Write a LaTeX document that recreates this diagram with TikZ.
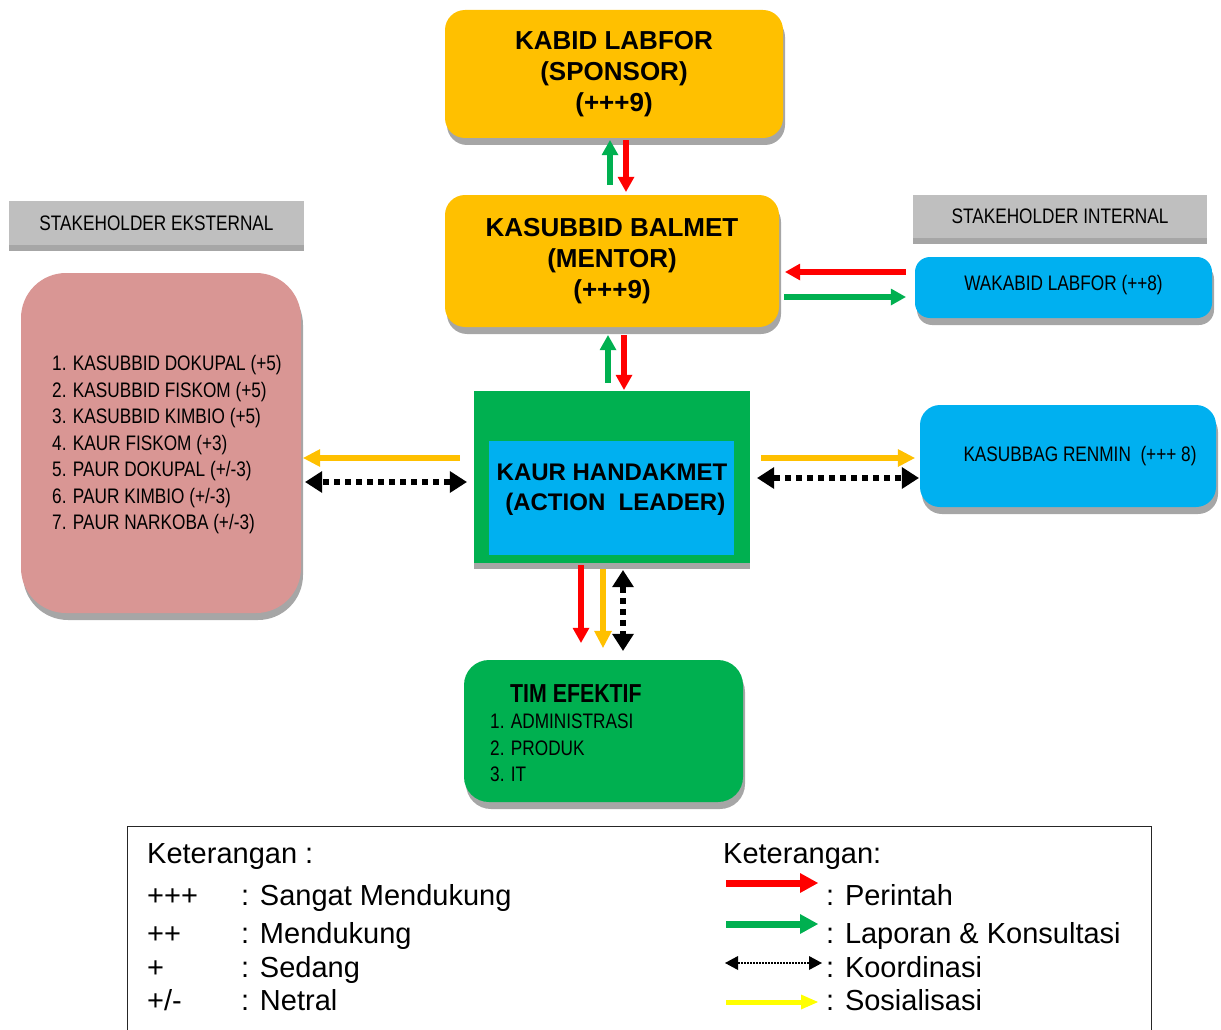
\documentclass[tikz,border=0pt]{standalone}
\usepackage{fontspec}
\setmainfont{Liberation Sans}
\newfontfamily\narrowfont[FakeStretch=0.82]{Liberation Sans}
\usetikzlibrary{arrows.meta,shadows}
\definecolor{emas}{RGB}{255,192,0}
\definecolor{hijau}{RGB}{0,176,80}
\definecolor{biru}{RGB}{0,176,240}
\definecolor{merahmuda}{RGB}{217,150,148}
\definecolor{abu}{RGB}{191,191,191}
\definecolor{bayang}{RGB}{166,166,166}
\definecolor{merah}{RGB}{255,0,0}
\definecolor{kuning}{RGB}{255,255,0}

\begin{document}
\begin{tikzpicture}[x=1pt,y=-1pt,
  kotak/.style={rounded corners=20pt,inner sep=0pt,align=center},
  bayangan/.style={drop shadow={shadow xshift=2pt,shadow yshift=-7pt,fill=bayang,opacity=1}},
  garis/.style={drop shadow={shadow xshift=0pt,shadow yshift=-6pt,fill=bayang,opacity=1}},
  judul/.style={font=\fontsize{26}{31}\selectfont\bfseries},
  sempit/.style={font=\narrowfont\fontsize{21}{26.5}\selectfont},
  ket/.style={font=\fontsize{29}{34}\selectfont,anchor=base west,inner sep=0pt},
  perintah/.style={draw=merah,line width=6pt,-{Triangle[length=15pt,width=17pt,line width=0pt]}},
  lapor/.style={draw=hijau,line width=6pt,-{Triangle[length=15pt,width=17pt,line width=0pt]}},
  sosial/.style={draw=emas,line width=5.5pt,-{Triangle[length=17pt,width=18pt,line width=0pt]}},
  koord/.style={draw=black,line width=6pt,dash pattern=on 6pt off 5pt,
    {Triangle[length=17pt,width=22pt,line width=0pt]}-{Triangle[length=17pt,width=22pt,line width=0pt]}},
  legmerah/.style={draw=merah,line width=7pt,-{Triangle[length=18pt,width=20pt,line width=0pt]}},
  leghijau/.style={draw=hijau,line width=7pt,-{Triangle[length=18pt,width=20pt,line width=0pt]}},
  legkoord/.style={draw=black,line width=1.5pt,dash pattern=on 1.5pt off 1.5pt,
    {Triangle[length=13pt,width=14pt,line width=0pt]}-{Triangle[length=13pt,width=14pt,line width=0pt]}},
  legkuning/.style={draw=kuning,line width=5pt,-{Triangle[length=17pt,width=15pt,line width=0pt]}}]
\useasboundingbox (0,0) rectangle (1221,1030);

\node[kotak,fill=emas,bayangan,judul,minimum width=338pt,minimum height=128pt] (kabid) at (614,74) {KABID LABFOR\\(SPONSOR)\\(+++9)};
\node[kotak,fill=emas,bayangan,judul,minimum width=334pt,minimum height=132pt] (balmet) at (612,261) {KASUBBID BALMET\\(MENTOR)\\(+++9)};

\node[fill=hijau,garis,inner sep=0pt,minimum width=276pt,minimum height=172pt] (handak) at (612,477) {};
\node[fill=biru,inner sep=0pt,minimum width=245pt,minimum height=114pt] (inti) at (611.5,498) {};
\node[font=\fontsize{24}{30}\selectfont\bfseries,align=center,inner sep=0pt] (handakteks) at (612,489.5) {KAUR HANDAKMET\\\ (ACTION\ \ LEADER)};

\node[fill=abu,garis,sempit,inner sep=0pt,minimum width=295pt,minimum height=44pt] (eksternal) at (156.5,223) {STAKEHOLDER EKSTERNAL};
\node[fill=abu,garis,sempit,inner sep=0pt,minimum width=294pt,minimum height=43pt] (internal) at (1060,216.5) {STAKEHOLDER INTERNAL};

\node[kotak,rounded corners=45pt,fill=merahmuda,bayangan,minimum width=280pt,minimum height=340pt] (daftar) at (161,443) {};
\node[sempit,anchor=west,align=left,inner sep=0pt] (daftarteks) at (52,445) {1. KASUBBID DOKUPAL (+5)\\2. KASUBBID FISKOM (+5)\\3. KASUBBID KIMBIO (+5)\\4. KAUR FISKOM (+3)\\5. PAUR DOKUPAL (+/-3)\\6. PAUR KIMBIO (+/-3)\\7. PAUR NARKOBA (+/-3)};

\node[kotak,rounded corners=15pt,fill=biru,bayangan,sempit,minimum width=297pt,minimum height=61pt] (wakabid) at (1063.5,287.5) {\raisebox{9pt}{WAKABID LABFOR (++8)}};
\node[kotak,fill=biru,bayangan,sempit,minimum width=296pt,minimum height=102pt] (renmin) at (1068,456) {\hspace*{24pt}KASUBBAG RENMIN\ \ (+++ 8)};

\node[kotak,rounded corners=25pt,fill=hijau,bayangan,minimum width=279pt,minimum height=142pt] (tim) at (603.5,731) {};
\node[sempit,anchor=west,align=left,inner sep=0pt] (timteks) at (490,733) {\hspace*{20pt}{\fontsize{26}{27}\selectfont\bfseries TIM EFEKTIF}\\1. ADMINISTRASI\\2. PRODUK\\3. IT};

\draw[lapor,shorten <=10pt,shorten >=2pt] ([xshift=-2pt]balmet.north) -- ([xshift=-4pt]kabid.south);
\draw[perintah,shorten <=2pt,shorten >=3pt] ([xshift=12pt]kabid.south) -- ([xshift=14pt]balmet.north);
\draw[lapor,shorten <=8pt,shorten >=8pt] ([xshift=-4pt]handak.north) -- ([xshift=-4pt]balmet.south);
\draw[perintah,shorten <=8pt,shorten >=1pt] ([xshift=12pt]balmet.south) -- ([xshift=12pt]handak.north);

\draw[perintah,shorten <=9pt,shorten >=6pt] ([yshift=15.5pt]wakabid.west) -- ([yshift=-11pt]balmet.east);
\draw[lapor,shorten <=5pt,shorten >=9pt] ([yshift=-36pt]balmet.east) -- ([yshift=-9.5pt]wakabid.west);

\draw[sosial,shorten <=14pt,shorten >=2pt] ([yshift=19pt]handak.west) -- ([yshift=-15pt]daftar.east);
\draw[koord,shorten <=7pt,shorten >=4pt] ([yshift=-5pt]handak.west) -- ([yshift=-39pt]daftar.east);
\draw[sosial,shorten <=11pt,shorten >=5pt] ([yshift=19pt]handak.east) -- ([yshift=-2pt]renmin.west);
\draw[koord,shorten <=7pt,shorten >=1pt] ([yshift=-1pt]handak.east) -- ([yshift=-22pt]renmin.west);

\draw[perintah,shorten <=2pt,shorten >=17pt] ([xshift=-31pt]handak.south) -- ([xshift=-22.5pt]tim.north);
\draw[sosial,shorten <=6pt,shorten >=12pt] ([xshift=-9pt]handak.south) -- ([xshift=-0.5pt]tim.north);
\draw[koord,shorten <=7pt,shorten >=9pt] ([xshift=11pt]handak.south) -- ([xshift=19.5pt]tim.north);

\begin{scope}
\clip (0,0) rectangle (1221,1030);
\node[draw=black!85,line width=1.2pt,anchor=north west,inner sep=0pt,minimum width=1024pt,minimum height=214pt] (legenda) at (127,826) {};
\end{scope}

\node[ket] (ket1) at (147,863) {Keterangan :};
\node[ket] (sangat) at (147,905) {+++};
\node[ket] (sangatket) at (241,905) {: Sangat Mendukung};
\node[ket] (dukung) at (147,943) {++};
\node[ket] (dukungket) at (241,943) {: Mendukung};
\node[ket] (sedang) at (147,977) {+};
\node[ket] (sedangket) at (241,977) {: Sedang};
\node[ket] (netral) at (147,1010) {+/-};
\node[ket] (netralket) at (241,1010) {: Netral};

\node[ket] (ket2) at (723,863) {Keterangan:};
\node[ket] (lperintah) at (826,905) {: Perintah};
\node[ket] (llapor) at (826,943) {: Laporan \& Konsultasi};
\node[ket] (lkoord) at (826,977) {: Koordinasi};
\node[ket] (lsosial) at (826,1010) {: Sosialisasi};

\coordinate (la1) at (726,883);
\coordinate (la2) at (726,924);
\coordinate (la3) at (725,963);
\coordinate (la4) at (726,1002);
\draw[legmerah,shorten >=8pt] (la1) -- (la1 -| lperintah.west);
\draw[leghijau,shorten >=8pt] (la2) -- (la2 -| llapor.west);
\draw[legkoord,shorten >=4pt] (la3) -- (la3 -| lkoord.west);
\draw[legkuning,shorten >=8pt] (la4) -- (la4 -| lsosial.west);
\end{tikzpicture}
\end{document}
